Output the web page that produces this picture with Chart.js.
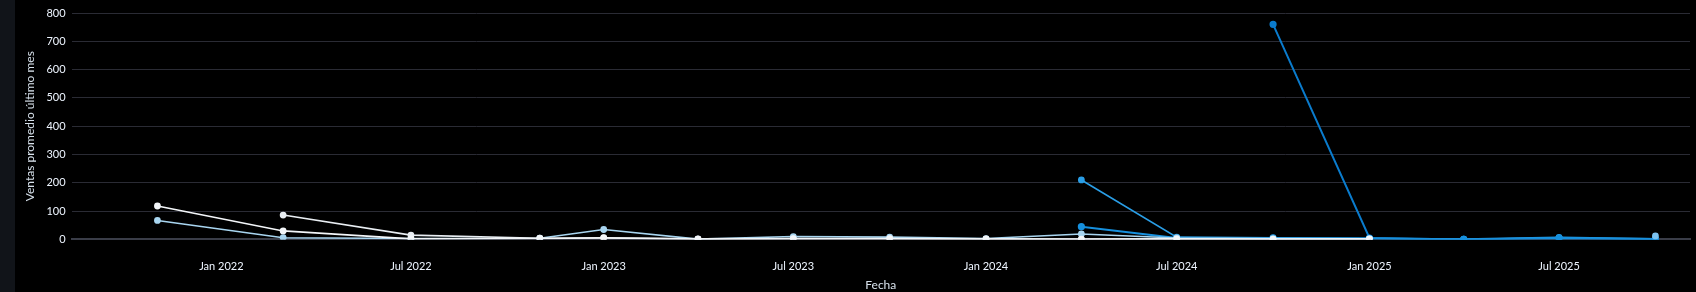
<!DOCTYPE html>
<html>
<head>
<meta charset="utf-8">
<script src="https://cdn.jsdelivr.net/npm/chart.js@4.4.1/dist/chart.umd.min.js"></script>
<style>
  html, body { margin: 0; padding: 0; background: #111419; overflow: hidden; }
  #wrap { position: absolute; left: 15px; top: 0; width: 1681px; height: 292px; background: #000; }
</style>
</head>
<body>
<div id="wrap"><canvas id="ventas"></canvas></div>
<script>
// Fechas de cada punto (trimestral aprox.)
const fechas = ['2021-11-01', '2022-03-01', '2022-07-01', '2022-11-01', '2023-01-01', '2023-04-01',
    '2023-07-01', '2023-10-01', '2024-01-01', '2024-04-01', '2024-07-01', '2024-10-01',
    '2025-01-01', '2025-04-01', '2025-07-01', '2025-10-01'];

// Marcas del eje X
const ticksFecha = ['2022-01-01', '2022-07-01', '2023-01-01', '2023-07-01', '2024-01-01',
    '2024-07-01', '2025-01-01', '2025-07-01'];
const mesesCortos = ['Jan', 'Feb', 'Mar', 'Apr', 'May', 'Jun', 'Jul', 'Aug', 'Sep', 'Oct', 'Nov', 'Dec'];

const ticksY = [0, 100, 200, 300, 400, 500, 600, 700, 800];

// Series
const serieA = [118, 30, 2, 3, 5, 1, 2, 2, 1, 0, 1, 0, 1, null, null, null];
const serieB = [null, 86, 15, 4, 6, 2, 3, 3, 2, 1, 2, 1, 2, null, null, null];
const serieC = [67, 6, 3, 4, 35, 1, 10, 8, 3, 19, 5, 3, 2, null, null, null];
const serieD = [null, null, null, null, null, null, null, null, null, 210, 8, 6, 4, 1, 7, 2];
const serieE = [null, null, null, null, null, null, null, null, null, 45, 5, 4, 3, 0, 5, 1];
const serieF = [null, null, null, null, null, null, null, null, null, null, null, 760, 5, 0, 4, 0];
const serieG = [null, null, null, null, null, null, null, null, null, null, null, null, null, null, null, 12];

const toMs = s => Date.parse(s + 'T00:00:00Z');
const pts = arr => fechas.map((f, i) => ({ x: toMs(f), y: arr[i] }));

const serie = (label, data, color, width) => ({
    label,
    data: pts(data),
    borderColor: color,
    backgroundColor: color,
    borderWidth: width,
    pointRadius: 2.6,
    pointHoverRadius: 4,
    spanGaps: false
});

const fontTxt = { family: 'Lato', size: 11 };

new Chart(document.getElementById('ventas'), {
    type: 'line',
    data: {
        datasets: [
            serie('Serie A', serieA, '#f3f6f9', 1.6),
            serie('Serie B', serieB, '#e9eef3', 1.6),
            serie('Serie C', serieC, '#a8d5f0', 1.6),
            serie('Serie G', serieG, '#7cc2f0', 1.6),
            serie('Serie E', serieE, '#1690de', 2),
            serie('Serie D', serieD, '#2a9ee6', 1.6),
            serie('Serie F', serieF, '#0a7bcc', 2)
        ]
    },
    options: {
        responsive: true,
        maintainAspectRatio: false,
        animation: false,
        layout: { padding: { top: 13, left: 4, right: -9, bottom: 0 } },
        plugins: {
            legend: { display: false },
            tooltip: { enabled: false }
        },
        scales: {
            x: {
                type: 'linear',
                min: toMs('2021-08-11'),
                max: toMs('2025-11-03'),
                grid: { display: false, drawTicks: false },
                border: { display: true, color: '#3a3d48', width: 2 },
                afterBuildTicks: axis => {
                    axis.ticks = ticksFecha.map(f => ({ value: toMs(f) }));
                },
                ticks: {
                    color: '#eef5ff',
                    font: fontTxt,
                    padding: 20,
                    maxRotation: 0,
                    callback: v => {
                        const d = new Date(v);
                        return mesesCortos[d.getUTCMonth()] + ' ' + d.getUTCFullYear();
                    }
                },
                title: {
                    display: true,
                    text: 'Fecha',
                    color: '#d8e2ec',
                    font: { family: 'Lato', size: 12 },
                    padding: { top: -15, bottom: 0 }
                }
            },
            y: {
                min: 0,
                max: 800,
                afterBuildTicks: axis => {
                    axis.ticks = ticksY.map(v => ({ value: v }));
                },
                grid: { color: '#2a2b34', lineWidth: 1, drawTicks: false },
                border: { display: false },
                ticks: { color: '#eef5ff', font: fontTxt, padding: 6 },
                title: {
                    display: true,
                    text: 'Ventas promedio último mes',
                    color: '#d8e2ec',
                    font: { family: 'Lato', size: 12 },
                    padding: { top: 4, bottom: 3 }
                }
            }
        }
    }
});
</script>
</body>
</html>
